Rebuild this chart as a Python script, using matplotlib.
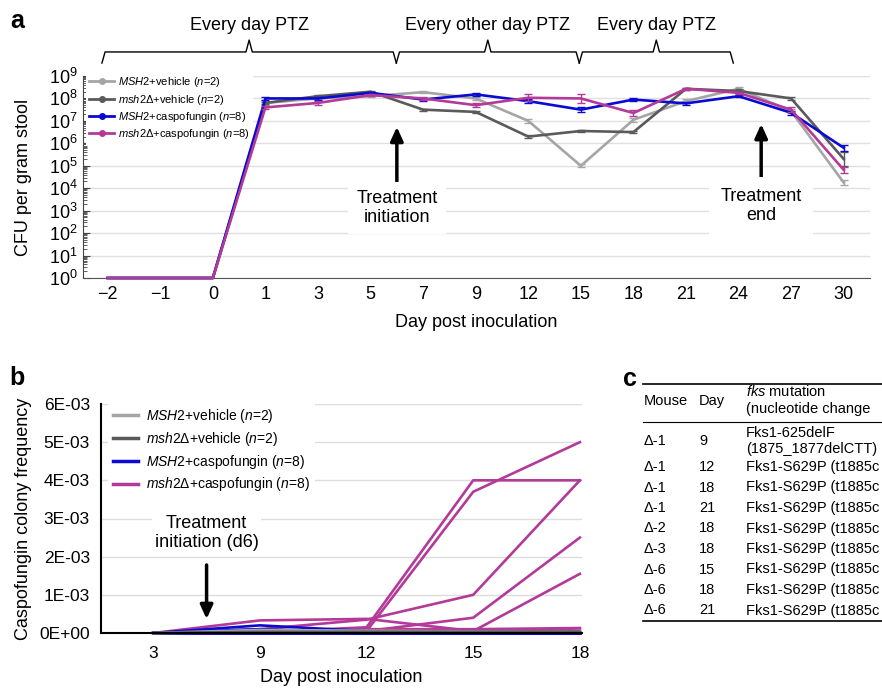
import matplotlib
matplotlib.use("Agg")
import matplotlib.pyplot as plt
from matplotlib.lines import Line2D
from matplotlib.ticker import LogLocator, NullFormatter
import numpy as np

plt.rcParams['font.family'] = ['Liberation Sans', 'DejaVu Sans']
plt.rcParams['mathtext.fontset'] = 'custom'
plt.rcParams['mathtext.rm'] = 'Liberation Sans'
plt.rcParams['mathtext.it'] = 'Liberation Sans:italic'
plt.rcParams['mathtext.bf'] = 'Liberation Sans:bold'

W, H = 882, 689

# ---------------- panel a: log10 CFU per gram stool
days_a = ['\u22122', '\u22121', '0', '1', '3', '5', '7', '9', '12', '15', '18', '21', '24', '27', '30']
msh2_vehicle = [0, 0, 0, 7.8, 8.0, 8.1, 8.28, 8.0, 7.0, 5.0, 7.05, 7.88, 8.43, 7.43, 4.25]
del_vehicle = [0, 0, 0, 7.8, 8.1, 8.3, 7.5, 7.4, 6.3, 6.55, 6.5, 8.43, 8.33, 8.0, 5.3]
msh2_caspo = [0, 0, 0, 8.0, 8.0, 8.25, 7.95, 8.18, 7.88, 7.5, 7.95, 7.78, 8.1, 7.36, 5.8]
del_caspo = [0, 0, 0, 7.6, 7.8, 8.15, 8.0, 7.7, 8.03, 8.0, 7.35, 8.43, 8.25, 7.5, 4.82]
# error bar half widths (decades)
msh2_vehicle_err = [0, 0, 0, 0.1, 0.05, 0.05, 0.05, 0.08, 0.08, 0.06, 0.1, 0.1, 0.1, 0.08, 0.1]
del_vehicle_err = [0, 0, 0, 0.05, 0.05, 0.05, 0.05, 0.05, 0.05, 0.05, 0.05, 0.05, 0.08, 0.05, 0.3]
msh2_caspo_err = [0, 0, 0, 0.05, 0.05, 0.05, 0.05, 0.05, 0.08, 0.12, 0.05, 0.05, 0.05, 0.1, 0.12]
del_caspo_err = [0, 0, 0, 0.08, 0.08, 0.05, 0.05, 0.08, 0.15, 0.22, 0.12, 0.05, 0.05, 0.1, 0.12]

regimens = ['Every day PTZ', 'Every other day PTZ', 'Every day PTZ']
regimen_spans = [(-0.11, 5.49), (5.49, 8.97), (8.97, 11.9)]

# ---------------- panel b: caspofungin colony frequency per mouse
days_b = ['3', '9', '12', '15', '18']
ytick_labels_b = ['0E+00', '1E-03', '2E-03', '3E-03', '4E-03', '5E-03', '6E-03']
msh2_vehicle_b = [[0, 0.00008, 0.00006, 0.00004, 0.00003],
                  [0, 0.00002, 0.00002, 0.00001, 0.00001]]
del_vehicle_b = [[0, 0.00003, 0.00003, 0.00003, 0.00004],
                 [0, 0.00001, 0.00002, 0.00002, 0.00002]]
msh2_caspo_b = [[0, 0.0002, 0.00005, 0.00001, 0.0],
                [0, 0.0001, 0.00002, 0.0, 0.0],
                [0, 0.00005, 0.00001, 0.0, 0.0],
                [0, 0.00003, 0.00001, 0.0, 0.0],
                [0, 0.00002, 0.0, 0.0, 0.0],
                [0, 0.00001, 0.0, 0.0, 0.0],
                [0, 0.0, 0.0, 0.0, 0.0],
                [0, 0.0, 0.0, 0.0, 0.0]]
del_caspo_b = [[0, 0.00033, 0.00037, 0.00005, 0.00012],
               [0, 0.00002, 0.00015, 0.0040, 0.0040],
               [0, 0.00002, 0.00005, 0.0037, 0.0050],
               [0, 0.0001, 0.00035, 0.0010, 0.0040],
               [0, 0.00002, 0.00005, 0.0004, 0.0025],
               [0, 0.0, 0.00002, 0.00005, 0.00155],
               [0, 0.00005, 0.0001, 0.0001, 0.00013],
               [0, 0.0, 0.0, 0.00002, 0.00002]]

# ---------------- panel c table (text as it shows, cut at the right edge)
table_mouse = ['\u0394-1', '\u0394-1', '\u0394-1', '\u0394-1', '\u0394-2', '\u0394-3', '\u0394-6', '\u0394-6', '\u0394-6']
table_day = ['9', '12', '18', '21', '18', '18', '15', '18', '21']
table_mut = ['Fks1-625delF\n(1875_1877delCTT)'] + ['Fks1-S629P (t1885c'] * 8

c_lgray = '#a5a5a5'
c_dgray = '#5a5a5a'
c_blue = '#0a0ad2'
c_mag = '#b33a98'

labels = [r'$\it{MSH2}$+vehicle ($\it{n}$=2)',
          r'$\it{msh2}$' + '\u0394+vehicle (' + r'$\it{n}$=2)',
          r'$\it{MSH2}$+caspofungin ($\it{n}$=8)',
          r'$\it{msh2}$' + '\u0394+caspofungin (' + r'$\it{n}$=8)']
colors = [c_lgray, c_dgray, c_blue, c_mag]

fig = plt.figure(figsize=(W / 100, H / 100), dpi=100)


def fx(px):
    return px / W


def fy(py):
    return 1 - py / H


# ================= panel a
ax = fig.add_axes([fx(83), fy(278), (870 - 83) / W, (278 - 76) / H])
x = np.arange(len(days_a))
series = [(msh2_vehicle, msh2_vehicle_err), (del_vehicle, del_vehicle_err),
          (msh2_caspo, msh2_caspo_err), (del_caspo, del_caspo_err)]
for (vals, err), col in zip(series, colors):
    v = np.array(vals, dtype=float)
    e = np.array(err, dtype=float)
    y = 10 ** v
    ax.plot(x, y, color=col, lw=1.9, clip_on=False, zorder=3)
    m = e > 0
    ax.errorbar(x[m], y[m], yerr=[y[m] - 10 ** (v[m] - e[m]), 10 ** (v[m] + e[m]) - y[m]],
                fmt='none', ecolor=col, elinewidth=1, capsize=3, capthick=1, zorder=3)

ax.set_yscale('log')
ax.set_ylim(1, 1e9)
ax.set_xlim(-0.47, 14.5)
ax.yaxis.set_major_locator(LogLocator(base=10, numticks=15))
ax.yaxis.set_minor_locator(LogLocator(base=10, subs=np.arange(2, 10), numticks=15))
ax.yaxis.set_minor_formatter(NullFormatter())
ax.set_xticks(x)
ax.set_xticklabels(days_a)
ax.tick_params(axis='x', length=0, pad=6, labelsize=13)
ax.tick_params(axis='y', which='major', direction='in', length=5, labelsize=13, pad=4, color='#444444')
ax.tick_params(axis='y', which='minor', direction='in', length=3, color='#444444')
# grid drawn by hand so the legend can sit between it and the ticks
for k in range(10):
    ax.axhline(10.0 ** k, color='#e0e0e0', lw=1, zorder=0.5)
for s in ['top', 'right']:
    ax.spines[s].set_visible(False)
ax.spines['left'].set_color('#444444')
ax.spines['bottom'].set_color('#555555')
ax.set_xlabel('Day post inoculation', fontsize=13, labelpad=8)
ax.set_ylabel('CFU per gram stool', fontsize=13, labelpad=12)

handles_a = [Line2D([], [], color=c, lw=2, marker='o', ms=4) for c in colors]
leg = ax.legend(handles_a, labels, loc='upper left', bbox_to_anchor=(0.004, 1.02), fontsize=8,
                frameon=True, facecolor='white', edgecolor='none', framealpha=1, fancybox=False,
                handlelength=2.2, handletextpad=0.35, labelspacing=0.3, borderpad=0.3, borderaxespad=0)
leg.set_zorder(2)

# treatment regimen braces
tr = ax.get_xaxis_transform()
yb, ye, yt = 1.119, 1.064, 1.178
for (x0, x1), name in zip(regimen_spans, regimens):
    xm = (x0 + x1) / 2
    d = 0.06
    ax.plot([x0, x0 + d, xm - d, xm, xm + d, x1 - d, x1],
            [ye, yb, yb, yt, yb, yb, ye], color='black', lw=1, transform=tr, clip_on=False)
    ax.text(xm, 1.25, name, transform=tr, ha='center', va='center', fontsize=13)

arrow = dict(arrowstyle='-|>,head_length=0.55,head_width=0.25', lw=2.5, color='black',
             mutation_scale=15, shrinkA=0, shrinkB=0)
ax.annotate('', xy=(5.5, 0.748), xytext=(5.5, 0.47), xycoords=tr, textcoords=tr, arrowprops=arrow)
ax.text(5.5, 0.347, 'Treatment\ninitiation', transform=tr, ha='center', va='center', fontsize=13,
        linespacing=1.1, bbox=dict(fc='white', ec='none', pad=6))
ax.annotate('', xy=(12.43, 0.762), xytext=(12.43, 0.485), xycoords=tr, textcoords=tr, arrowprops=arrow)
ax.text(12.43, 0.356, 'Treatment\nend', transform=tr, ha='center', va='center', fontsize=13,
        linespacing=1.1, bbox=dict(fc='white', ec='none', pad=8))

fig.text(fx(17), fy(21), 'a', fontsize=18, fontweight='bold', ha='center', va='center')

# ================= panel b
axb = fig.add_axes([fx(101), fy(633), (582 - 101) / W, (633 - 404) / H])
xb = np.arange(len(days_b))
for group, col in [(del_caspo_b, c_mag), (msh2_caspo_b, c_blue), (msh2_vehicle_b, c_lgray), (del_vehicle_b, c_dgray)]:
    for mouse in group:
        axb.plot(xb, mouse, color=col, lw=1.9, clip_on=False)
axb.set_xlim(-0.49, 4.02)
axb.set_ylim(0, 6e-3)
axb.set_yticks(np.arange(len(ytick_labels_b)) * 1e-3)
axb.set_yticklabels(ytick_labels_b)
axb.set_xticks(xb)
axb.set_xticklabels(days_b)
axb.tick_params(axis='both', length=0, labelsize=12.5)
axb.tick_params(axis='x', pad=9)
axb.tick_params(axis='y', pad=8)
axb.yaxis.grid(True, color='#dddddd', lw=1)
axb.set_axisbelow(True)
for s in ['top', 'right']:
    axb.spines[s].set_visible(False)
for s in ['left', 'bottom']:
    axb.spines[s].set_linewidth(1.5)
axb.set_xlabel('Day post inoculation', fontsize=13, labelpad=6)
axb.set_ylabel('Caspofungin colony frequency', fontsize=13, labelpad=5)

handles_b = [Line2D([], [], color=c, lw=2.5) for c in colors]
legb = axb.legend(handles_b, labels, loc='upper left', bbox_to_anchor=(0.0146, 1.009), fontsize=10,
                  frameon=True, facecolor='white', edgecolor='none', framealpha=1, fancybox=False,
                  handlelength=1.8, handletextpad=0.6, labelspacing=0.35, borderpad=0.35, borderaxespad=0)
legb.set_zorder(5)

trb = axb.get_xaxis_transform()
axb.annotate('', xy=(0.5, 0.061), xytext=(0.5, 0.297), xycoords=trb, textcoords=trb, arrowprops=arrow)
axb.text(0.5, 0.436, 'Treatment\ninitiation (d6)', transform=trb, ha='center', va='center', fontsize=13,
         linespacing=1.15, bbox=dict(fc='white', ec='none', pad=2))

fig.text(fx(17), fy(378), 'b', fontsize=18, fontweight='bold', ha='center', va='center')

# ================= panel c (table)
fig.text(fx(630), fy(379), 'c', fontsize=18, fontweight='bold', ha='center', va='center')
x_mouse, x_day, x_mut = fx(644), fx(699), fx(746)
tfs = 10.5


def rule(py, lw=1.0):
    fig.add_artist(Line2D([fx(643), 1.0], [fy(py), fy(py)], transform=fig.transFigure, color='black', lw=lw))


rule(383.5, 1.2)
rule(421.5, 0.8)
rule(621, 1.2)
fig.text(x_mouse, fy(401), 'Mouse', fontsize=tfs, va='center')
fig.text(x_day, fy(401), 'Day', fontsize=tfs, va='center')
fig.text(x_mut, fy(392), r'$\it{fks}$ mutation', fontsize=tfs, va='center')
fig.text(x_mut, fy(409.5), '(nucleotide change', fontsize=tfs, va='center')

row_y = [441] + [467 + 20.5 * i for i in range(len(table_mouse) - 1)]
for py, mouse, day, mut in zip(row_y, table_mouse, table_day, table_mut):
    fig.text(x_mouse, fy(py), mouse, fontsize=tfs, va='center')
    fig.text(x_day, fy(py), day, fontsize=tfs, va='center')
    fig.text(x_mut, fy(py), mut, fontsize=tfs, va='center', linespacing=1.25)

fig.savefig('out.png', dpi=100)
